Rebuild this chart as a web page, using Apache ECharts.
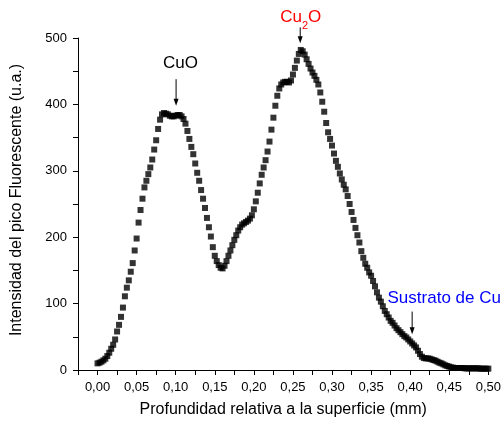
<!DOCTYPE html>
<html>
<head>
<meta charset="utf-8">
<script src="https://cdn.jsdelivr.net/npm/echarts@6/dist/echarts.min.js"></script>
<style>
  html, body { margin: 0; padding: 0; background: #ffffff; }
  #chart { width: 504px; height: 425px; }
</style>
</head>
<body>
<div id="chart"></div>
<script>
// Depth sampling (mm): first sample and spacing between samples
const depthStart = 0;
const depthStep = 0.0025;

// Fluorescence peak intensity (u.a.) at each depth sample, 0.000 .. 0.500 mm
const intensity = [
  10, 11, 12.5, 14.5, 17, 21, 26, 32, 38, 46,
  58, 68, 80, 94, 111, 124, 135, 148, 161, 180,
  198, 222, 241, 258, 275, 285, 295, 305, 317, 332,
  346, 363, 377, 385, 387, 386, 385, 383, 382, 382,
  383, 384, 384, 382, 378, 371, 360, 348, 336, 325,
  311, 297, 285, 271, 258, 244, 229, 215, 201, 185,
  172, 164, 158, 154, 153, 157, 164, 172, 180, 188,
  196, 203, 210, 215, 219, 221, 223, 225, 228, 233,
  242, 254, 267, 281, 294, 305, 316, 329, 344, 362,
  380, 398, 413, 424, 430, 433, 434, 434, 433, 436,
  445, 455, 466, 476, 482, 480, 475, 468, 461, 454,
  448, 443, 437, 430, 418, 404, 389, 372, 358, 348,
  338, 326, 315, 306, 296, 287, 279, 272, 262, 250,
  238, 226, 214, 203, 192, 179, 169, 160, 154, 147,
  142, 134, 126, 117, 109, 103, 96, 89, 84, 79,
  74, 71, 67, 63, 60, 57, 54, 51, 49, 46,
  43, 40, 37, 34, 29, 24, 20, 18, 17.5, 17.5,
  17, 16, 15, 14, 12.5, 11, 10, 8.5, 7, 6,
  5, 4, 3.5, 3, 3, 3, 3, 3, 2.5, 2.5,
  2.5, 2.5, 2.5, 2.5, 2.5, 2.5, 2, 2, 2, 2,
  2
];

// Axis ranges and tick spacing
const xRange = [-0.025, 0.5];
const xTickStep = 0.025;
const yRange = [0, 500];
const yTickStep = 50;

// Peak annotations: label text, label anchor, arrow start and arrow tip (data units)
const peakLabels = [
  { rich: '{a|CuO}', color: '#000000', label: [0.106, 464], from: [0.1005, 438], to: [0.1005, 398], align: 'center' },
  { rich: '{a|Cu}{s|2}{a|O}', color: '#ff0000', label: [0.26, 533], from: [0.2593, 516], to: [0.2593, 492], align: 'center' },
  { rich: '{a|Sustrato de Cu}', color: '#0000ff', label: [0.371, 110], from: [0.4025, 88], to: [0.4025, 54], align: 'left' }
];

const points = intensity.map((v, i) => [depthStart + i * depthStep, v]);

const FONT = '"Liberation Sans", Arial, sans-serif';

const chart = echarts.init(document.getElementById('chart'), null, { renderer: 'canvas' });

chart.setOption({
  animation: false,
  backgroundColor: '#ffffff',
  grid: { left: 78, right: 14, top: 38, bottom: 55, containLabel: false },
  xAxis: {
    type: 'value',
    min: xRange[0],
    max: xRange[1],
    interval: xTickStep,
    name: 'Profundidad relativa a la superficie (mm)',
    nameLocation: 'middle',
    nameGap: 32,
    nameTextStyle: { fontFamily: FONT, fontSize: 16, color: '#000' },
    axisLine: { show: true, onZero: false, lineStyle: { color: '#000', width: 1 } },
    axisTick: { show: true, inside: false, length: 5, lineStyle: { color: '#000' } },
    axisLabel: {
      show: true,
      margin: 11,
      fontFamily: FONT,
      fontSize: 13,
      color: '#000',
      showMinLabel: true,
      showMaxLabel: true,
      formatter: function (v) {
        const k = Math.round(v / xTickStep);
        if (k < 0 || k % 2 !== 0) return '';
        return (k * xTickStep).toFixed(2).replace('.', ',');
      }
    },
    splitLine: { show: false }
  },
  yAxis: {
    type: 'value',
    min: yRange[0],
    max: yRange[1],
    interval: yTickStep,
    name: 'Intensidad del pico Fluorescente (u.a.)',
    nameLocation: 'middle',
    nameGap: 53,
    nameTextStyle: { fontFamily: FONT, fontSize: 16, color: '#000', padding: [0, 0, 0, 8] },
    axisLine: { show: true, onZero: false, lineStyle: { color: '#000', width: 1 } },
    axisTick: { show: true, inside: false, length: 5, lineStyle: { color: '#000' } },
    axisLabel: {
      show: true,
      margin: 11,
      fontFamily: FONT,
      fontSize: 13,
      color: '#000',
      formatter: function (v) {
        return (Math.round(v) % 100 === 0) ? String(Math.round(v)) : '';
      }
    },
    splitLine: { show: false }
  },
  series: [{
    type: 'scatter',
    data: points,
    symbol: 'rect',
    symbolSize: 6,
    itemStyle: { color: '#000000' },
    clip: false
  }]
});

// Annotation arrows and labels placed from data coordinates
function px(p) { return chart.convertToPixel({ gridIndex: 0 }, p); }

const graphics = [];
peakLabels.forEach(function (a) {
  const lp = px(a.label);
  const p0 = px(a.from);
  const p1 = px(a.to);
  graphics.push({
    type: 'text',
    x: lp[0], y: lp[1],
    style: {
      text: a.rich,
      align: a.align,
      verticalAlign: 'middle',
      rich: {
        a: { fontFamily: FONT, fontSize: 17, fill: a.color, lineHeight: 20, verticalAlign: 'bottom' },
        s: { fontFamily: FONT, fontSize: 11, fill: a.color, lineHeight: 20, verticalAlign: 'bottom', padding: [0, 0, -5, 0] }
      }
    },
    z: 10
  });
  graphics.push({
    type: 'line',
    shape: { x1: p0[0], y1: p0[1], x2: p1[0], y2: p1[1] - 6 },
    style: { stroke: '#000', lineWidth: 1 },
    z: 10
  });
  graphics.push({
    type: 'polygon',
    shape: { points: [[p1[0] - 2.5, p1[1] - 7], [p1[0] + 2.5, p1[1] - 7], [p1[0], p1[1]]] },
    style: { fill: '#000' },
    z: 10
  });
});

chart.setOption({ graphic: graphics });
</script>
</body>
</html>
